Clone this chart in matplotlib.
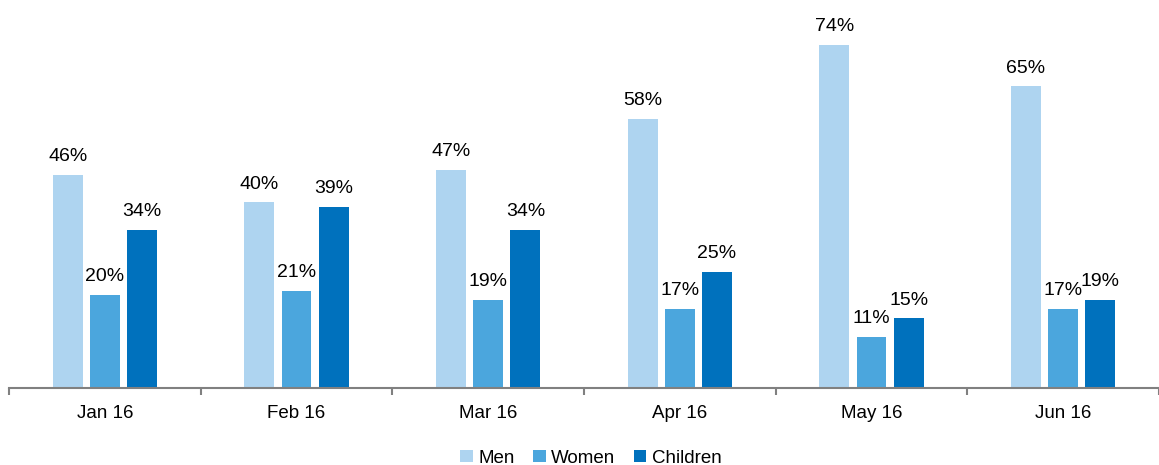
import numpy as np
import matplotlib.pyplot as plt

months = ["Jan 16", "Feb 16", "Mar 16", "Apr 16", "May 16", "Jun 16"]
men = [46, 40, 47, 58, 74, 65]
women = [20, 21, 19, 17, 11, 17]
children = [34, 39, 34, 25, 15, 19]

series = [("Men", men, "#aed4f0"),
          ("Women", women, "#4ba6dd"),
          ("Children", children, "#0071bd")]

plt.rcParams['font.family'] = ['Liberation Sans', 'DejaVu Sans']

fig = plt.figure(figsize=(11.59, 4.65), dpi=100)
ax = fig.add_axes([9 / 1159, 77 / 465, 1150 / 1159, 388 / 465])

x = np.arange(len(months))
width = 0.155
step = 0.194
for i, (name, vals, color) in enumerate(series):
    pos = x + (i - 1) * step
    ax.bar(pos, vals, width, color=color, label=name)
    for p, v in zip(pos, vals):
        ax.text(p, v + 2.1, f"{v}%", ha="center", va="bottom", fontsize=14)

ax.set_xlim(-0.5, len(months) - 0.5)
ax.set_ylim(0, 83.6)
ax.set_yticks([])
for s in ["top", "right", "left"]:
    ax.spines[s].set_visible(False)
ax.spines["bottom"].set_color("#808080")
ax.spines["bottom"].set_linewidth(1.5)

ax.set_xticks(x)
ax.set_xticklabels(months, fontsize=13.5)
ax.tick_params(axis="x", which="major", length=0, pad=12)
ax.set_xticks(np.arange(-0.5, len(months)), minor=True)
ax.tick_params(axis="x", which="minor", length=5, width=1.5, color="#808080")

fig.legend(loc="lower center", bbox_to_anchor=(0.51, -0.04), ncol=3, frameon=False,
           fontsize=13.5, handlelength=0.65, handleheight=0.65, handletextpad=0.3,
           columnspacing=1.0)

fig.savefig("out.png", dpi=100)
